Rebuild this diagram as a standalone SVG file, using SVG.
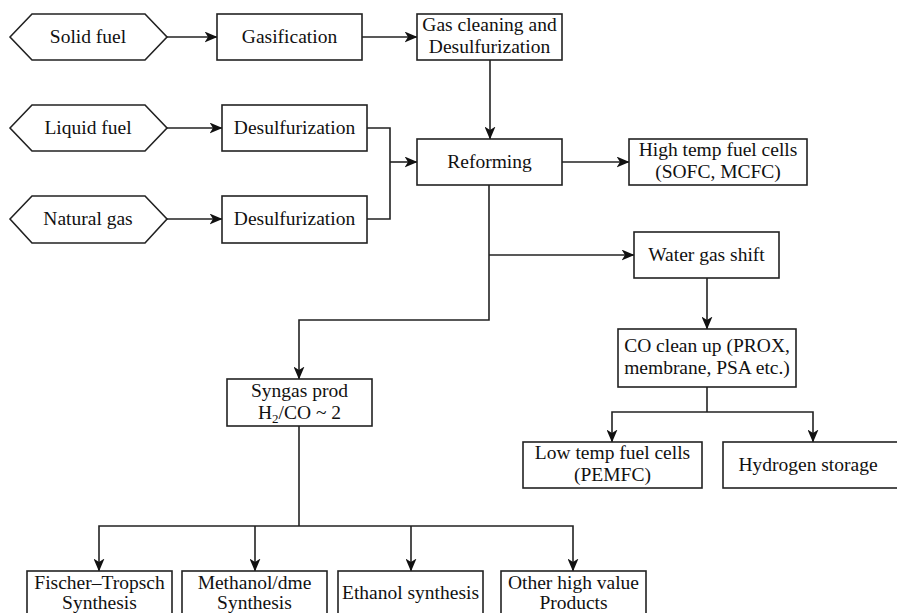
<svg xmlns="http://www.w3.org/2000/svg" width="897" height="613" viewBox="0 0 897 613">
<defs>
<style>
.n{fill:#fff;stroke:#222;stroke-width:1.6}
.t{font-family:'Liberation Serif','DejaVu Serif',serif;font-size:19.5px;fill:#111;text-anchor:middle}
.c{fill:none;stroke:#222;stroke-width:1.6}
.a{marker-end:url(#ah)}
</style>
<marker id="ah" viewBox="0 0 13 11" refX="12.5" refY="5.5" markerWidth="13" markerHeight="11" markerUnits="userSpaceOnUse" orient="auto">
<path d="M0,0 L13,5.5 L0,11 L3.5,5.5 z" fill="#111"/>
</marker>
</defs>
<rect width="897" height="613" fill="#fff"/>
<g id="connectors">
<line class="c a" x1="167" y1="37" x2="217" y2="37"/>
<line class="c a" x1="362" y1="37" x2="417" y2="37"/>
<line class="c a" x1="490" y1="60" x2="490" y2="139"/>
<line class="c a" x1="167" y1="128" x2="222" y2="128"/>
<line class="c a" x1="167" y1="219" x2="222" y2="219"/>
<polyline class="c" points="367,128 390,128 390,219 367,219"/>
<line class="c a" x1="390" y1="162" x2="417" y2="162"/>
<line class="c a" x1="562" y1="162" x2="629" y2="162"/>
<polyline class="c a" points="489,185 489,320 299,320 299,379"/>
<line class="c a" x1="489" y1="255" x2="634" y2="255"/>
<line class="c a" x1="707" y1="278" x2="707" y2="329"/>
<polyline class="c" points="707,387 707,412"/>
<polyline class="c a" points="707,412 612,412 612,442"/>
<polyline class="c a" points="707,412 813,412 813,442"/>
<line class="c" x1="299" y1="426" x2="299" y2="526"/>
<polyline class="c a" points="299,526 99,526 99,571"/>
<line class="c a" x1="255" y1="526" x2="255" y2="571"/>
<line class="c a" x1="411" y1="526" x2="411" y2="571"/>
<polyline class="c a" points="299,526 573,526 573,571"/>
</g>
<g font-family="Liberation Serif, DejaVu Serif, serif">
<g id="solid-fuel"><polygon class="n" points="10,37 32,14 145,14 167,37 145,60 32,60"/><text class="t" x="88" y="43">Solid fuel</text></g>
<g id="gasification"><rect class="n" x="217" y="14" width="145" height="46"/><text class="t" x="289.5" y="43">Gasification</text></g>
<g id="gas-cleaning"><rect class="n" x="417" y="14" width="145" height="46"/><text class="t" x="489.5" y="31">Gas cleaning and</text><text class="t" x="489.5" y="53">Desulfurization</text></g>
<g id="liquid-fuel"><polygon class="n" points="10,128 32,105 145,105 167,128 145,151 32,151"/><text class="t" x="88" y="134">Liquid fuel</text></g>
<g id="desulf-1"><rect class="n" x="222" y="105" width="145" height="46"/><text class="t" x="294.5" y="134">Desulfurization</text></g>
<g id="natural-gas"><polygon class="n" points="10,219 32,196 145,196 167,219 145,243 32,243"/><text class="t" x="88" y="225">Natural gas</text></g>
<g id="desulf-2"><rect class="n" x="222" y="196" width="145" height="47"/><text class="t" x="294.5" y="225">Desulfurization</text></g>
<g id="reforming"><rect class="n" x="417" y="139" width="145" height="46"/><text class="t" x="489.5" y="168">Reforming</text></g>
<g id="high-temp"><rect class="n" x="629" y="139" width="178" height="46"/><text class="t" x="718" y="156">High temp fuel cells</text><text class="t" x="718" y="178">(SOFC, MCFC)</text></g>
<g id="water-gas-shift"><rect class="n" x="634" y="232" width="145" height="46"/><text class="t" x="706.5" y="261">Water gas shift</text></g>
<g id="co-cleanup"><rect class="n" x="618" y="329" width="178" height="58"/><text class="t" x="707" y="352">CO clean up (PROX,</text><text class="t" x="707" y="374">membrane, PSA etc.)</text></g>
<g id="low-temp"><rect class="n" x="523" y="442" width="179" height="46"/><text class="t" x="612.5" y="459">Low temp fuel cells</text><text class="t" x="612.5" y="481">(PEMFC)</text></g>
<g id="hydrogen-storage"><rect class="n" x="723" y="442" width="180" height="46"/><text class="t" x="808" y="471">Hydrogen storage</text></g>
<g id="syngas"><rect class="n" x="227" y="379" width="145" height="47"/><text class="t" x="299.5" y="397">Syngas prod</text><text class="t" x="299.5" y="419">H<tspan font-size="13" dy="4">2</tspan><tspan dy="-4">/CO ~ 2</tspan></text></g>
<g id="fischer-tropsch"><rect class="n" x="27" y="571" width="145" height="48"/><text class="t" x="99.5" y="589">Fischer–Tropsch</text><text class="t" x="99.5" y="609">Synthesis</text></g>
<g id="methanol"><rect class="n" x="182" y="571" width="145" height="48"/><text class="t" x="254.5" y="589">Methanol/dme</text><text class="t" x="254.5" y="609">Synthesis</text></g>
<g id="ethanol"><rect class="n" x="338" y="571" width="145" height="48"/><text class="t" x="410.5" y="599">Ethanol synthesis</text></g>
<g id="other"><rect class="n" x="501" y="571" width="145" height="48"/><text class="t" x="573.5" y="589">Other high value</text><text class="t" x="573.5" y="609">Products</text></g>
</g>
</svg>
